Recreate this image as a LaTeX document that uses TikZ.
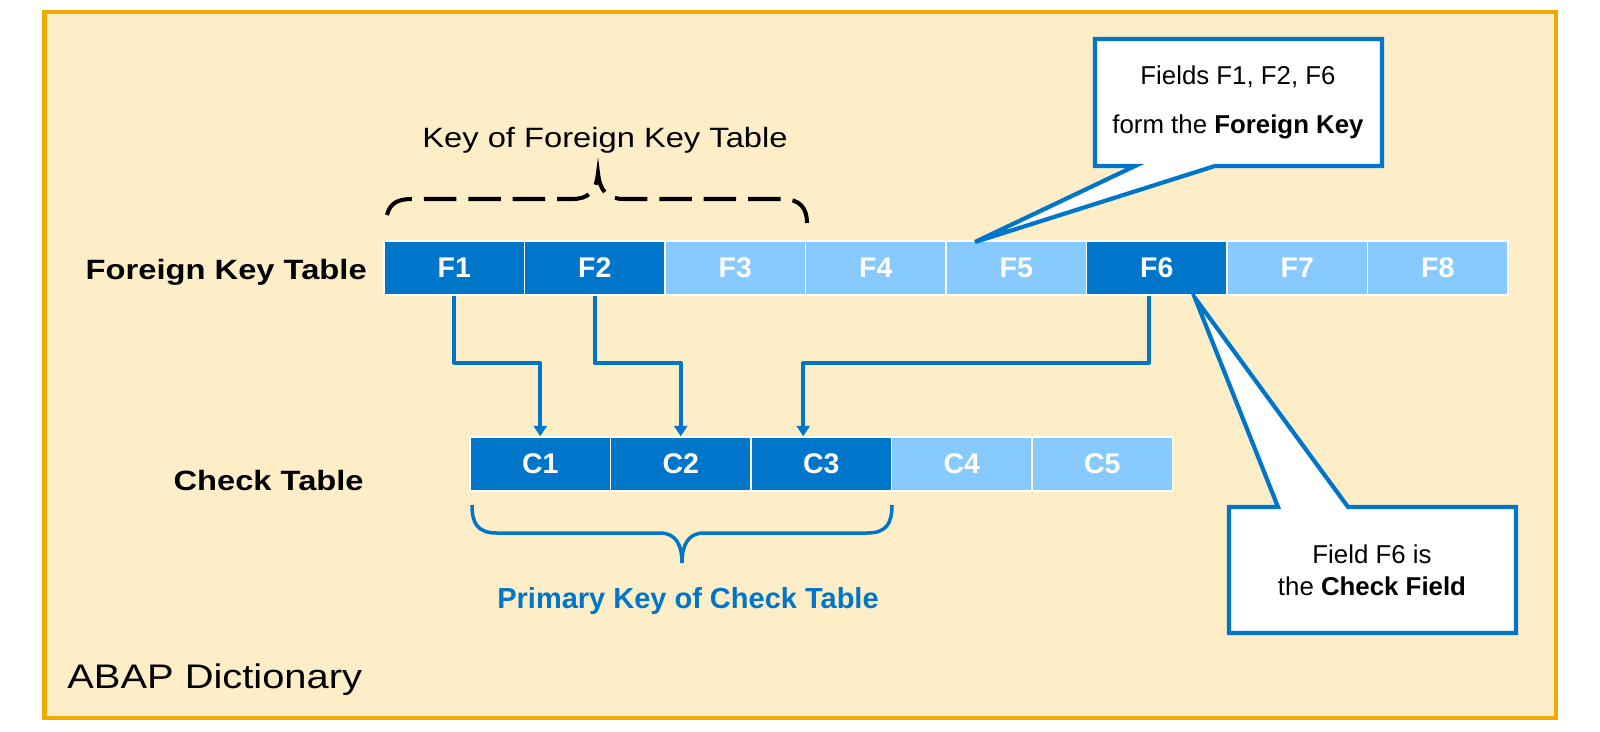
\documentclass[tikz,border=0pt]{standalone}
\usepackage{fontspec}
\setmainfont{Liberation Sans}
\newfontfamily\widefont[FakeStretch=1.17]{Liberation Sans}
\usetikzlibrary{calc,arrows.meta}
\definecolor{sapblue}{RGB}{0,118,203}
\definecolor{lightblue}{RGB}{135,202,255}
\definecolor{paper}{RGB}{253,238,200}
\definecolor{framecolor}{RGB}{240,170,0}

\begin{document}
\begin{tikzpicture}[x=0.02cm,y=-0.02cm,
                    cell/.style={draw=white,line width=0.8pt,minimum width=2.81cm,minimum height=1.08cm,inner sep=0pt,
                                 text=white,font=\bfseries\fontsize{16.2}{19}\selectfont},
                    link/.style={sapblue,line width=2.4pt,line join=round,-{Triangle[width=7.5pt,length=6pt]}},
                    note/.style={fill=white,draw=sapblue,line width=2.4pt},
                    tablabel/.style={anchor=base east,inner sep=0pt,font=\widefont\bfseries\fontsize{15.9}{19}\selectfont}]

\fill[white] (0,0) rectangle (1600,731);
\draw[framecolor,line width=2.8pt,fill=paper] (44.5,12) rectangle (1556,718);
\useasboundingbox (0,0) rectangle (1600,731);

%fields of the two tables
\foreach \i/\c in {1/sapblue,2/sapblue,3/lightblue,4/lightblue,5/lightblue,6/sapblue,7/lightblue,8/lightblue}
{
\node[cell,fill=\c] (f\i) at ({384+140.5*(\i-0.5)},268) {F\i};
}
\foreach \i/\c in {1/sapblue,2/sapblue,3/sapblue,4/lightblue,5/lightblue}
{
\node[cell,fill=\c] (c\i) at ({470+140.5*(\i-0.5)},464) {C\i};
}

\node[tablabel] (fktab) at (367,279) {Foreign Key Table};
\node[tablabel] (cktab) at (364,490) {Check Table};
\node[anchor=base west,inner sep=0pt,font=\widefont\fontsize{19.4}{22}\selectfont] (dict) at (67,688) {ABAP Dictionary};

%links F -> C
\coordinate (bus) at (0,363);
\coordinate (f6out) at ($(f6.south)+(-8,0)$);
\coordinate (c3in) at ($(c3.north)+(-18,0)$);
\draw[link] (f1.south) -- (f1.south |- bus) -| (c1.north);
\draw[link] (f2.south) -- (f2.south |- bus) -| (c2.north);
\draw[link] (f6out) -- (f6out |- bus) -| (c3in);

%braces
\draw[line width=2.3pt,dash pattern=on 18.5pt off 6.8pt] (387,215) .. controls (390,203) and (398,199) .. (412,199) -- (572,199)
      .. controls (588,199) and (596,192) .. (598,173) .. controls (600,192) and (608,199) .. (624,199) -- (782,199)
      .. controls (800,199) and (807,208) .. (807,223);
\node[anchor=base,inner sep=0pt,font=\widefont\fontsize{15.9}{19}\selectfont] (fkkey) at (605,147) {Key of Foreign Key Table};

\draw[sapblue,line width=2pt] (472,505) .. controls (472,524) and (478,533) .. (497,533) -- (660,533)
      .. controls (676,533) and (682,545) .. (682,563) .. controls (682,545) and (688,533) .. (704,533) -- (867,533)
      .. controls (886,533) and (892,524) .. (892,505);
\node[anchor=base,inner sep=0pt,text=sapblue,font=\bfseries\fontsize{16.5}{20}\selectfont] (pkkey) at (688,608) {Primary Key of Check Table};

%callouts
\draw[note] (1095,39) -- (1382,39) -- (1382,166) -- (1215,166) -- (975,242) -- (1135,166) -- (1095,166) -- cycle;
\node[align=center,font=\fontsize{14.7}{28}\selectfont] (fknote) at (1238,102) {Fields F1, F2, F6\\form the \textbf{Foreign Key}};

\draw[note] (1229,507) -- (1278,507) -- (1195,298) -- (1348,507) -- (1516,507) -- (1516,633) -- (1229,633) -- cycle;
\node[align=center,font=\fontsize{14.7}{18.1}\selectfont] (cfnote) at (1372,570) {Field F6 is\\the \textbf{Check Field}};

\end{tikzpicture}
\end{document}
